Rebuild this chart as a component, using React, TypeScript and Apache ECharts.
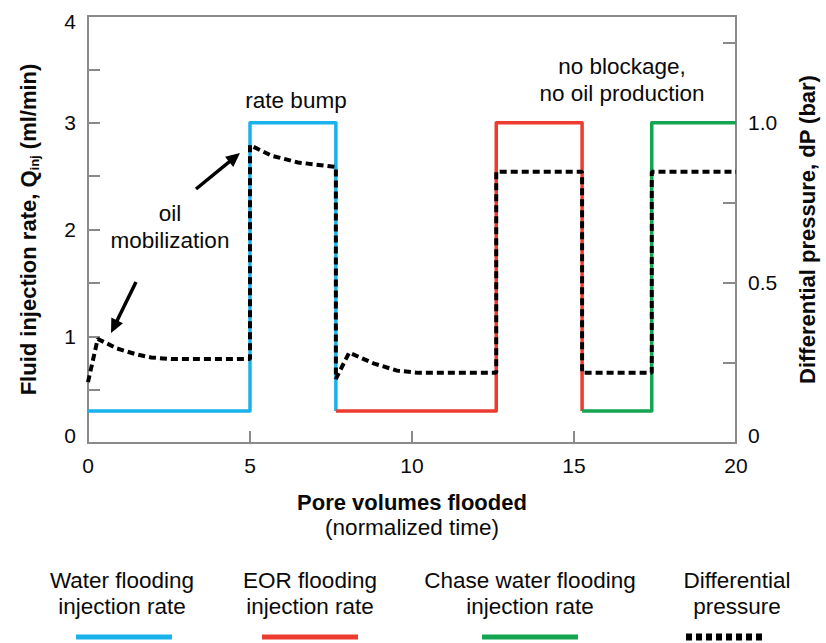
import React, { useEffect, useRef } from "react";
import * as echarts from "echarts";

// Injection-rate steps (ml/min) for each flooding stage, plotted on the left axis
const waterX = [0, 5, 5, 7.65, 7.65];
const waterQ = [0.3, 0.3, 3, 3, 0.3];
const eorX = [7.65, 12.6, 12.6, 15.25, 15.25];
const eorQ = [0.3, 0.3, 3, 3, 0.3];
const chaseX = [15.25, 17.4, 17.4, 20];
const chaseQ = [0.3, 0.3, 3, 3];

// Differential pressure trace (bar), plotted on the right axis
const dpX = [0, 0.3, 0.9, 1.45, 1.95, 2.6, 5, 5, 5.67, 6.48, 7.65, 7.65, 8.06, 8.83, 9.54, 10.2, 12.6, 12.6, 15.25, 15.25, 17.4, 17.4, 20];
const dpBar = [0.19, 0.325, 0.295, 0.278, 0.267, 0.262, 0.262, 0.93, 0.897, 0.876, 0.862, 0.2, 0.282, 0.248, 0.226, 0.219, 0.219, 0.847, 0.847, 0.219, 0.219, 0.847, 0.847];

const xTicks = [0, 5, 10, 15, 20];
const leftLabels = [0, 1, 2, 3, 4];
const rightLabels = ["0", "0.5", "1.0"];

const legendNames = [
  "Water flooding\ninjection rate",
  "EOR flooding\ninjection rate",
  "Chase water flooding\ninjection rate",
  "Differential\npressure",
];

const BLUE = "#1ab2ea";
const RED = "#ee3b2f";
const GREEN = "#13a550";
const GRAY = "#8a8a8a";
const INK = "#0a0a0a";
const FONT = "'Liberation Sans', Arial, Helvetica, sans-serif";
const TEXT_SIZE = 22.5;
const TICK_SIZE = 21;
const TITLE_SIZE = 22;

const pairs = (xs: number[], ys: number[]) => xs.map((x, i) => [x, ys[i]]);

function arrow(tail: [number, number], tip: [number, number]) {
  const dx = tip[0] - tail[0];
  const dy = tip[1] - tail[1];
  const len = Math.hypot(dx, dy);
  const ux = dx / len;
  const uy = dy / len;
  const hl = 14;
  const hw = 6.5;
  const bx = tip[0] - hl * ux;
  const by = tip[1] - hl * uy;
  return [
    {
      type: "line",
      shape: { x1: tail[0], y1: tail[1], x2: bx + ux * 2, y2: by + uy * 2 },
      style: { stroke: "#000", lineWidth: 3.5 },
      z: 100,
    },
    {
      type: "polygon",
      shape: {
        points: [
          [tip[0], tip[1]],
          [bx - uy * hw, by + ux * hw],
          [bx + uy * hw, by - ux * hw],
        ],
      },
      style: { fill: "#000" },
      z: 100,
    },
  ];
}

export default function App() {
  const ref = useRef<HTMLDivElement>(null);

  useEffect(() => {
    if (!ref.current) return;
    const chart = echarts.init(ref.current, null, { renderer: "svg" });

    const label = (x: number, y: number, text: string, extra: any = {}) => ({
      type: "text",
      x,
      y,
      z: 100,
      style: {
        text,
        fill: INK,
        fontSize: TEXT_SIZE,
        fontFamily: FONT,
        align: "center",
        verticalAlign: "middle",
        lineHeight: 26,
        ...extra,
      },
    });

    const legendCenters = [122, 310, 530, 737];
    const legendColors = [BLUE, RED, GREEN, "#000"];
    const legendGraphics: any[] = [];
    legendNames.forEach((name, i) => {
      legendGraphics.push(label(legendCenters[i], 593, name));
      const dashed = i === 3;
      const half = dashed ? 40 : 48;
      const cx = dashed ? 726 : legendCenters[i] + (i === 0 ? 2 : 0);
      legendGraphics.push({
        type: "line",
        shape: { x1: cx - half, y1: 637, x2: cx + half, y2: 637 },
        style: {
          stroke: legendColors[i],
          lineWidth: dashed ? 7 : 5,
          lineDash: dashed ? [6, 4] : null,
        },
        z: 100,
      });
    });

    chart.setOption({
      animation: false,
      backgroundColor: "#fff",
      grid: {
        left: 88,
        right: 84,
        top: 16,
        bottom: 200,
        show: true,
        borderColor: GRAY,
        borderWidth: 2,
        backgroundColor: "transparent",
      },
      xAxis: {
        type: "value",
        min: 0,
        max: 20,
        interval: 5,
        name: "{b|Pore volumes flooded}\n{n|(normalized time)}",
        nameLocation: "middle",
        nameGap: 47,
        nameTextStyle: {
          rich: {
            b: { fontSize: TITLE_SIZE, fontWeight: "bold", fontFamily: FONT, color: INK, lineHeight: 25 },
            n: { fontSize: TEXT_SIZE, fontFamily: FONT, color: INK, lineHeight: 25 },
          },
        },
        axisLine: { show: true, lineStyle: { color: GRAY, width: 2 } },
        axisTick: { show: true, inside: true, length: 12, lineStyle: { color: GRAY, width: 2 } },
        axisLabel: {
          fontSize: TICK_SIZE,
          fontFamily: FONT,
          color: INK,
          margin: 12,
          formatter: (v: number) => (xTicks.includes(v) ? String(v) : ""),
        },
        splitLine: { show: false },
      },
      yAxis: [
        {
          type: "value",
          min: 0,
          max: 4,
          interval: 0.5,
          name: "{b|Fluid injection rate, Q}{s|inj}{b| (ml/min)}",
          nameLocation: "middle",
          nameGap: 47,
          nameTextStyle: {
            rich: {
              b: { fontSize: TITLE_SIZE, fontWeight: "bold", fontFamily: FONT, color: INK, lineHeight: 26 },
              s: { fontSize: 13, fontWeight: "bold", fontFamily: FONT, color: INK, lineHeight: 14, verticalAlign: "bottom" },
            },
          },
          axisLine: { show: true, lineStyle: { color: GRAY, width: 2 } },
          axisTick: { show: true, inside: true, length: 12, lineStyle: { color: GRAY, width: 2 } },
          axisLabel: {
            fontSize: TICK_SIZE,
            fontFamily: FONT,
            color: INK,
            margin: 12,
            formatter: (v: number) => {
              if (!leftLabels.includes(v)) return "";
              if (v === 0) return "{lo|0}";
              if (v === 4) return "{hi|4}";
              return String(v);
            },
            rich: {
              lo: { fontSize: TICK_SIZE, fontFamily: FONT, color: INK, padding: [0, 0, 16, 0] },
              hi: { fontSize: TICK_SIZE, fontFamily: FONT, color: INK, padding: [10, 0, 0, 0] },
            },
          },
          splitLine: { show: false },
        },
        {
          type: "value",
          min: 0,
          max: 4 / 3,
          interval: 0.25,
          position: "right",
          name: "Differential pressure, dP (bar)",
          nameLocation: "middle",
          nameGap: 60,
          nameRotate: 90,
          nameTextStyle: { fontSize: TITLE_SIZE, fontWeight: "bold", fontFamily: FONT, color: INK },
          axisLine: { show: true, lineStyle: { color: GRAY, width: 2 } },
          axisTick: { show: true, inside: true, length: 13, lineStyle: { color: GRAY, width: 2 } },
          axisLabel: {
            fontSize: TICK_SIZE,
            fontFamily: FONT,
            color: INK,
            margin: 12,
            formatter: (v: number) => {
              if (Math.abs(v) < 1e-9) return "{lo|0}";
              if (Math.abs(v - 0.5) < 1e-9) return rightLabels[1];
              if (Math.abs(v - 1) < 1e-9) return rightLabels[2];
              return "";
            },
            rich: {
              lo: { fontSize: TICK_SIZE, fontFamily: FONT, color: INK, padding: [0, 0, 16, 0] },
            },
          },
          splitLine: { show: false },
        },
      ],
      series: [
        {
          name: "Water flooding injection rate",
          type: "line",
          yAxisIndex: 0,
          data: pairs(waterX, waterQ),
          showSymbol: false,
          lineStyle: { color: BLUE, width: 3.5, join: "round" },
          z: 2,
        },
        {
          name: "EOR flooding injection rate",
          type: "line",
          yAxisIndex: 0,
          data: pairs(eorX, eorQ),
          showSymbol: false,
          lineStyle: { color: RED, width: 3.5, join: "round" },
          z: 2,
        },
        {
          name: "Chase water flooding injection rate",
          type: "line",
          yAxisIndex: 0,
          data: pairs(chaseX, chaseQ),
          showSymbol: false,
          lineStyle: { color: GREEN, width: 3.5, join: "round" },
          z: 2,
        },
        {
          name: "Differential pressure",
          type: "line",
          yAxisIndex: 1,
          data: pairs(dpX, dpBar),
          showSymbol: false,
          lineStyle: { color: "#000", width: 4, type: [7, 4] },
          z: 3,
        },
      ],
      graphic: [
        label(296, 100, "rate bump"),
        label(170, 227, "oil\nmobilization", { lineHeight: 27 }),
        label(622, 80, "no blockage,\nno oil production", { lineHeight: 27 }),
        ...arrow([196, 189], [240, 153]),
        ...arrow([136, 282], [111, 333]),
        ...legendGraphics,
      ],
    });

    return () => chart.dispose();
  }, []);

  return <div ref={ref} style={{ width: 826, height: 643, position: "absolute", left: 0, top: 0 }} />;
}
